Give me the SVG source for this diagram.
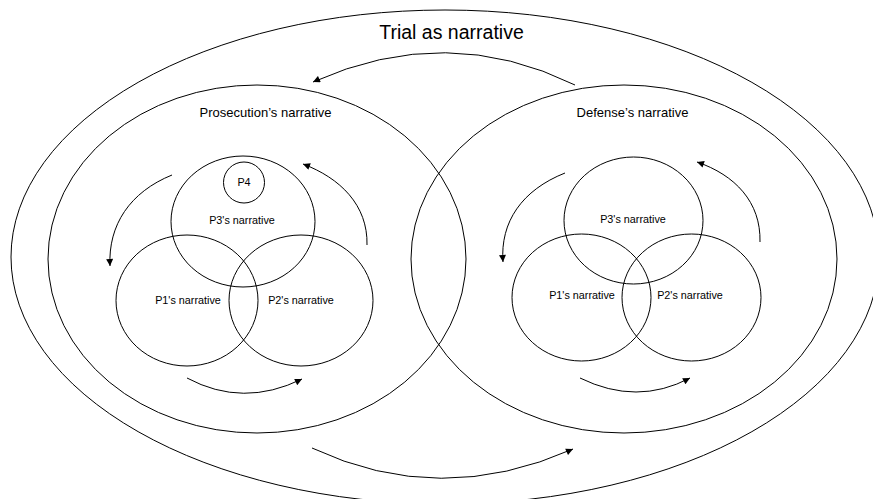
<svg xmlns="http://www.w3.org/2000/svg" width="873" height="499" viewBox="0 0 873 499">
  <style>
    .ring { fill: none; stroke: #000; stroke-width: 1; }
    .flow { fill: none; stroke: #000; stroke-width: 1; marker-end: url(#tip); }
    text { font-family: "Liberation Sans", Arial, sans-serif; fill: #000; text-anchor: middle; }
    .title { font-size: 19.5px; }
    .side { font-size: 13px; }
    .part { font-size: 10.8px; }
  </style>
  <defs>
    <marker id="tip" viewBox="0 0 10 10" refX="10" refY="5" markerUnits="userSpaceOnUse" markerWidth="9" markerHeight="7" orient="auto">
      <path d="M0,0 L10,5 L0,10 z" fill="#000"/>
    </marker>
  </defs>
  <rect width="873" height="499" fill="#fff"/>

  <!-- whole trial -->
  <g id="trial">
    <ellipse class="ring" cx="445" cy="257" rx="434" ry="247"/>
    <text class="title" x="451.5" y="39">Trial as narrative</text>
  </g>

  <!-- prosecution side -->
  <g id="prosecution">
    <ellipse class="ring" cx="257" cy="259" rx="209" ry="174"/>
    <text class="side" x="265.5" y="117">Prosecution’s narrative</text>
  </g>
  <g id="pros-p3">
    <ellipse class="ring" cx="243" cy="221.5" rx="72" ry="65.5"/>
    <text class="part" x="242" y="224">P3's narrative</text>
  </g>
  <g id="pros-p4">
    <circle class="ring" cx="244" cy="182.5" r="20.5"/>
    <text class="part" x="244" y="186">P4</text>
  </g>
  <g id="pros-p1">
    <ellipse class="ring" cx="187" cy="300.5" rx="71" ry="65.5"/>
    <text class="part" x="188" y="304">P1's narrative</text>
  </g>
  <g id="pros-p2">
    <ellipse class="ring" cx="301" cy="300.5" rx="72" ry="65.5"/>
    <text class="part" x="301" y="304">P2's narrative</text>
  </g>

  <!-- defense side -->
  <g id="defense">
    <ellipse class="ring" cx="624" cy="259" rx="213" ry="174"/>
    <text class="side" x="632.5" y="117">Defense’s narrative</text>
  </g>
  <g id="def-p3">
    <ellipse class="ring" cx="633.5" cy="220.5" rx="69.5" ry="63.5"/>
    <text class="part" x="633" y="223">P3's narrative</text>
  </g>
  <g id="def-p1">
    <ellipse class="ring" cx="581.5" cy="297.5" rx="69.5" ry="63.5"/>
    <text class="part" x="582" y="299">P1's narrative</text>
  </g>
  <g id="def-p2">
    <ellipse class="ring" cx="691.5" cy="297.5" rx="69.5" ry="63.5"/>
    <text class="part" x="690" y="299">P2's narrative</text>
  </g>

  <!-- circulating arrows -->
  <g id="connectors">
    <path class="flow" d="M575,85 Q447,22 313,82"/>
    <path class="flow" d="M312,448 Q440,508 573,449"/>

    <path class="flow" d="M172,175 C130,192 108,225 110,266"/>
    <path class="flow" d="M367,245 C368,205 340,178 303,164"/>
    <path class="flow" d="M187,378 Q243,408 302,379"/>

    <path class="flow" d="M565,173 C522,190 500,222 503,262"/>
    <path class="flow" d="M760,242 C761,202 735,175 697,162"/>
    <path class="flow" d="M580,378 Q637,406 690,378"/>
  </g>
</svg>
